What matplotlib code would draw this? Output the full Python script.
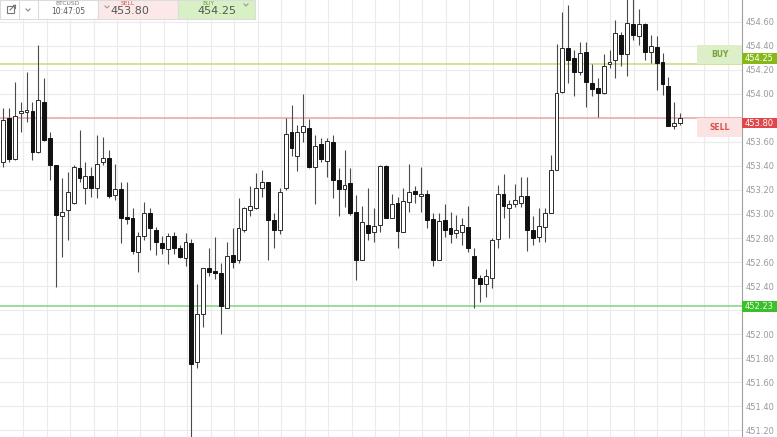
import numpy as np
import matplotlib
matplotlib.use("Agg")
import matplotlib.pyplot as plt
from matplotlib.patches import Rectangle
import matplotlib.transforms as mtransforms

# ---- data (BTCUSD 1-min candles) ----
opens = [453.43, 453.80, 453.46, 453.84, 453.85, 453.86, 453.52, 453.93, 453.63, 453.41,
         452.98, 453.03, 453.09, 453.38, 453.22, 453.32, 453.22, 453.43, 453.47, 453.16,
         453.21, 452.97, 452.97, 452.68, 452.82, 453.01, 452.87, 452.76, 452.71, 452.82,
         452.72, 452.63, 452.76, 451.77, 452.17, 452.55, 452.52, 452.51, 452.22, 452.66,
         452.62, 452.87, 453.03, 453.05, 453.22, 453.27, 452.95, 452.87, 453.22, 453.68,
         453.48, 453.68, 453.72, 453.39, 453.58, 453.44, 453.60, 453.28, 453.21, 453.26,
         453.02, 452.62, 452.91, 452.85, 452.91, 453.40, 452.97, 453.09, 452.85, 453.10,
         453.19, 453.15, 453.17, 452.96, 452.62, 452.95, 452.88, 452.84, 452.85, 452.89,
         452.65, 452.47, 452.42, 452.47, 452.79, 453.17, 453.05, 453.08, 453.09, 453.15,
         452.87, 452.81, 452.89, 453.01, 453.37, 454.02, 454.38, 454.30, 454.18, 454.35,
         454.09, 454.05, 454.01, 454.25, 454.28, 454.49, 454.33, 454.58, 454.48, 454.58,
         454.35, 454.39, 454.27, 454.07, 453.73, 453.76]
highs = [453.88, 453.88, 454.10, 453.93, 454.18, 453.93, 454.41, 454.13, 453.68, 453.41,
         453.30, 453.35, 453.41, 453.70, 453.43, 453.39, 453.66, 453.64, 453.53, 453.42,
         453.27, 453.27, 453.05, 452.85, 453.10, 453.05, 452.89, 452.82, 452.84, 452.85,
         452.74, 452.84, 452.79, 452.42, 452.55, 452.72, 452.81, 452.59, 452.77, 452.88,
         453.13, 453.06, 453.23, 453.34, 453.37, 453.27, 453.01, 453.22, 453.80, 453.91,
         453.74, 454.00, 453.79, 453.66, 453.63, 453.63, 453.66, 453.38, 453.53, 453.38,
         453.16, 453.07, 453.22, 453.05, 453.41, 453.41, 453.17, 453.14, 453.22, 453.42,
         453.23, 453.39, 453.20, 453.01, 453.01, 453.08, 453.02, 452.99, 452.97, 453.07,
         452.72, 452.49, 452.54, 452.80, 453.24, 453.33, 453.12, 453.25, 453.31, 453.31,
         452.98, 453.05, 453.05, 453.49, 454.42, 454.68, 454.74, 454.37, 454.43, 454.43,
         454.25, 454.13, 454.33, 454.37, 454.62, 454.52, 454.80, 454.80, 454.71, 454.59,
         454.49, 454.48, 454.34, 454.14, 453.93, 453.84]
lows = [453.39, 453.43, 453.45, 453.68, 453.77, 453.45, 453.51, 453.61, 453.28, 452.39,
        452.64, 452.78, 453.08, 453.27, 453.08, 453.14, 453.13, 453.41, 453.13, 453.12,
        452.76, 452.92, 452.67, 452.52, 452.78, 452.70, 452.66, 452.67, 452.58, 452.67,
        452.63, 452.57, 451.14, 451.72, 452.06, 452.48, 452.46, 452.00, 452.22, 452.55,
        452.59, 452.85, 452.98, 453.04, 453.14, 452.62, 452.72, 452.83, 453.20, 453.48,
        453.36, 453.60, 453.38, 453.08, 453.43, 453.31, 453.13, 452.98, 453.06, 452.99,
        452.45, 452.62, 452.78, 452.77, 452.85, 452.97, 452.97, 452.72, 452.85, 453.02,
        453.09, 453.02, 452.88, 452.57, 452.62, 452.81, 452.76, 452.80, 452.74, 452.68,
        452.22, 452.27, 452.31, 452.38, 452.72, 452.97, 452.80, 453.06, 453.06, 452.69,
        452.74, 452.77, 452.77, 453.01, 453.37, 454.01, 454.09, 453.98, 454.16, 453.89,
        453.98, 453.81, 454.00, 454.22, 454.13, 454.23, 454.15, 454.45, 454.41, 454.28,
        454.26, 454.03, 453.99, 453.73, 453.71, 453.74]
closes = [453.78, 453.46, 453.82, 453.86, 453.87, 453.52, 453.95, 453.62, 453.41, 452.99,
          453.02, 453.18, 453.39, 453.30, 453.32, 453.22, 453.42, 453.47, 453.15, 453.21,
          452.97, 452.96, 452.69, 452.82, 453.01, 452.88, 452.77, 452.72, 452.82, 452.72,
          452.64, 452.77, 451.75, 452.17, 452.55, 452.52, 452.51, 452.23, 452.65, 452.60,
          452.88, 453.05, 453.07, 453.22, 453.27, 452.95, 452.87, 453.18, 453.67, 453.55,
          453.68, 453.73, 453.39, 453.57, 453.46, 453.61, 453.28, 453.21, 453.24, 453.01,
          452.62, 452.93, 452.84, 452.90, 453.40, 452.97, 453.08, 452.86, 453.11, 453.18,
          453.17, 453.17, 452.95, 452.62, 452.94, 452.87, 452.83, 452.87, 452.91, 452.72,
          452.47, 452.42, 452.48, 452.78, 453.17, 453.07, 453.08, 453.12, 453.15, 452.87,
          452.80, 452.90, 453.01, 453.37, 454.01, 454.38, 454.28, 454.18, 454.34, 454.10,
          454.04, 454.01, 454.23, 454.27, 454.51, 454.33, 454.59, 454.49, 454.58, 454.35,
          454.40, 454.26, 454.08, 453.73, 453.76, 453.80]

buy_price = 454.25
sell_price = 453.80
level_price = 452.23
price_ticks = [451.2, 451.4, 451.6, 451.8, 452.0, 452.2, 452.4, 452.6, 452.8, 453.0,
               453.2, 453.4, 453.6, 453.8, 454.0, 454.2, 454.4, 454.6]
hidden_ticks = [452.2, 453.8]   # labels covered by the price boxes
header_time = "10:47:05"
header_symbol = "BTCUSD"

W, H = 777, 437
fig = plt.figure(figsize=(W / 100, H / 100), dpi=100)
fig.patch.set_facecolor("white")
ax = fig.add_axes([0, 0, 742 / W, 1])
ax.set_facecolor("white")

n = len(opens)
x = np.arange(n)
ax.set_xlim(-0.51, 125.5)
ax.set_ylim(451.142, 454.783)

# grid
ax.set_xticks(np.arange(3.4, 126, 3.99))
ax.set_yticks(price_ticks)
ax.set_yticklabels(["" if any(abs(v - h) < 1e-6 for h in hidden_ticks) else f"{v:.2f}"
                    for v in price_ticks])
ax.grid(True, color="#ebebeb", lw=0.8, zorder=0)
ax.set_axisbelow(True)
ax.tick_params(axis="x", length=0, labelbottom=False)
ax.yaxis.tick_right()
ax.tick_params(axis="y", length=0, pad=2.5, labelsize=6, labelcolor="#9a9a9a")
for s in ["top", "left", "bottom"]:
    ax.spines[s].set_visible(False)
ax.spines["right"].set_color("#a0a0a0")
ax.spines["right"].set_linewidth(0.8)

# horizontal level lines
ax.axhline(buy_price, color="#c8d87a", lw=1.1, zorder=1)
ax.axhline(sell_price, color="#eaa5a5", lw=1.1, zorder=1)
ax.axhline(level_price, color="#7fd47f", lw=1.1, zorder=1)

# candles
bw = 0.66
for i in range(n):
    o, h, l, c = opens[i], highs[i], lows[i], closes[i]
    ax.vlines(x[i], l, h, color="#4a4a4a", lw=0.8, zorder=2)
    lo, hi = min(o, c), max(o, c)
    hgt = max(hi - lo, 0.012)
    if c >= o:
        ax.add_patch(Rectangle((x[i] - bw / 2, lo), bw, hgt, facecolor="white",
                               edgecolor="#2a2a2a", lw=0.7, zorder=3))
    else:
        ax.add_patch(Rectangle((x[i] - bw / 2, lo), bw, hgt, facecolor="#111111",
                               edgecolor="#111111", lw=0.7, zorder=3))

# price boxes on the right axis
tr = mtransforms.blended_transform_factory(ax.transAxes, ax.transData)
ppx = 120.0  # pixels per price unit
bx_w = 35 / 742
box_h = 10.5 / ppx
def price_box(p, txt, fc, tc="white", where="center"):
    if where == "above":
        y0 = p
    elif where == "below":
        y0 = p - box_h
    else:
        y0 = p - box_h / 2
    ax.add_patch(Rectangle((1.0, y0), bx_w, box_h, transform=tr, facecolor=fc,
                           edgecolor="none", clip_on=False, zorder=10))
    ax.text(1.0 + bx_w / 2, y0 + box_h / 2, txt, transform=tr, ha="center", va="center",
            fontsize=6, color=tc, clip_on=False, zorder=11)

price_box(buy_price, f"{buy_price:.2f}", "#86b817", where="above")
price_box(sell_price, f"{sell_price:.2f}", "#e0474c", where="below")
price_box(level_price, f"{level_price:.2f}", "#3cbf2c", tc="#e4ffdc")

# BUY / SELL tags
tag_x0 = 697 / 742
tag_h = 19 / ppx
ax.add_patch(Rectangle((tag_x0, buy_price), 1 - tag_x0, tag_h, transform=tr,
                       facecolor="#dcefc9", edgecolor="none", zorder=9))
ax.text((tag_x0 + 1) / 2, buy_price + tag_h / 2, "BUY", transform=tr, ha="center",
        va="center", fontsize=5.5, color="#7aa53a", fontweight="bold", zorder=11)
ax.add_patch(Rectangle((tag_x0, sell_price - tag_h), 1 - tag_x0, tag_h, transform=tr,
                       facecolor="#fbe3e3", edgecolor="none", zorder=9))
ax.text((tag_x0 + 1) / 2, sell_price - tag_h / 2, "SELL", transform=tr, ha="center",
        va="center", fontsize=5.5, color="#d9534f", fontweight="bold", zorder=11)

# ---- header overlay (pixel coordinates) ----
ov = fig.add_axes([0, 0, 1, 1], zorder=20)
ov.set_xlim(0, W)
ov.set_ylim(H, 0)
ov.axis("off")
ov.patch.set_alpha(0)
hdr_h = 19
ov.add_patch(Rectangle((0, 0), 98, hdr_h, facecolor="white", edgecolor="#dcdcdc", lw=0.8))
ov.add_patch(Rectangle((98, 0), 80, hdr_h, facecolor="#fde8e8", edgecolor="#dcdcdc", lw=0.8))
ov.add_patch(Rectangle((178, 0), 77, hdr_h, facecolor="#d8f1c4", edgecolor="#dcdcdc", lw=0.8))
for xs in (19, 38):
    ov.plot([xs, xs], [0, hdr_h], color="#dcdcdc", lw=0.8)
# icon (external link)
ov.add_patch(Rectangle((7, 6), 7, 7, facecolor="none", edgecolor="#777777", lw=0.8))
ov.plot([10, 15], [10, 5], color="#777777", lw=0.8)
ov.plot([12.5, 15, 15], [5, 5, 7.5], color="#777777", lw=0.8)
# chevrons
def chevron(cx, cy, col):
    ov.plot([cx - 2, cx, cx + 2], [cy - 1, cy + 1, cy - 1], color=col, lw=0.8)
chevron(28, 10, "#888888")
chevron(107, 7, "#999999")
chevron(246, 5, "#999999")
ov.text(67, 0.6, header_symbol, ha="center", va="top", fontsize=4.3, color="#777777")
ov.text(68, 11.5, header_time, ha="center", va="center", fontsize=5.5, color="#555555")
ov.text(128, 0.6, "SELL", ha="center", va="top", fontsize=4.3, color="#d9534f")
ov.text(130, 11, f"{sell_price:.2f}", ha="center", va="center", fontsize=8, color="#555555")
ov.text(208, 0.6, "BUY", ha="center", va="top", fontsize=4.3, color="#6aa13a")
ov.text(217, 11, f"{buy_price:.2f}", ha="center", va="center", fontsize=8, color="#555555")

fig.savefig("out.png", dpi=100, facecolor="white")
